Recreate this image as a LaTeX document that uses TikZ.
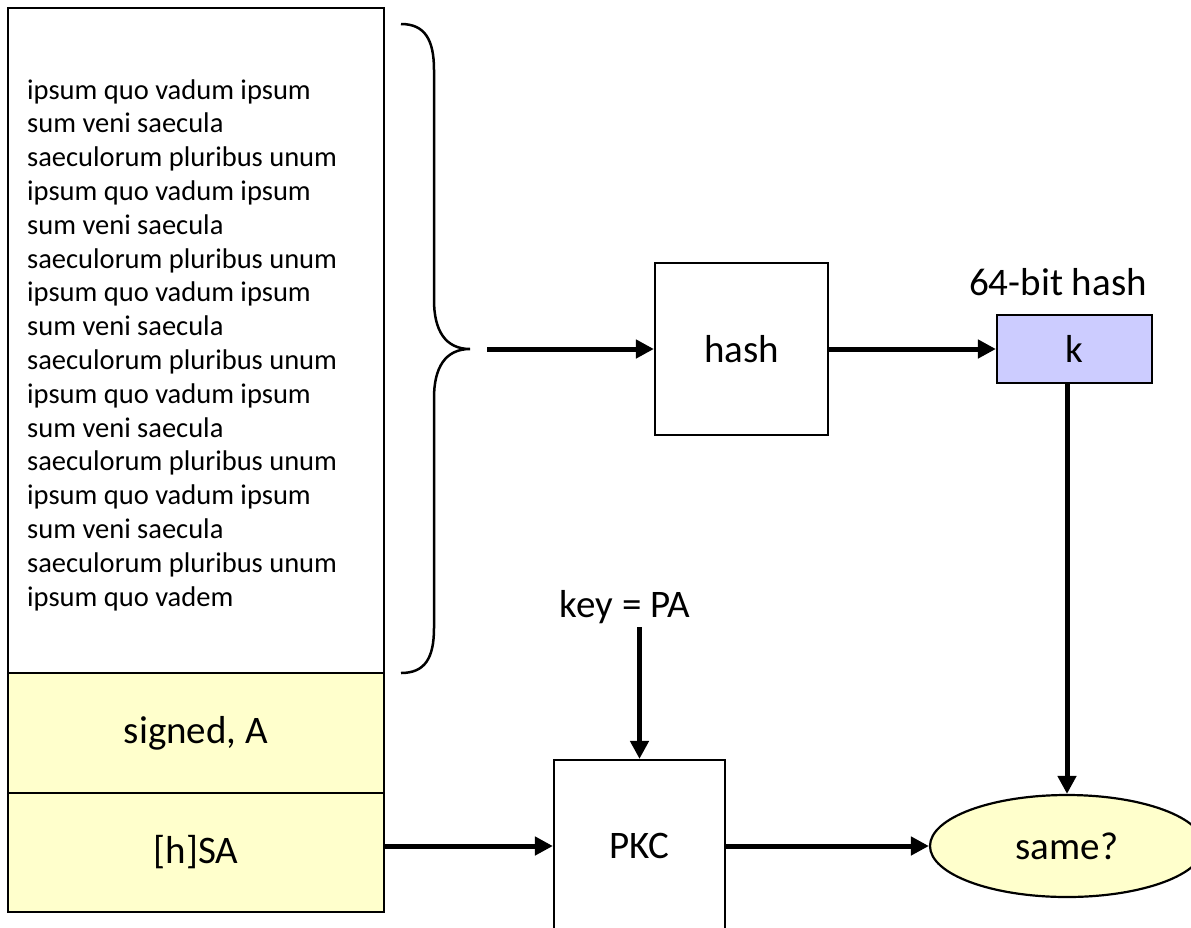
\documentclass[tikz,border=0pt]{standalone}
\usepackage{fontspec}
\setmainfont{Carlito}
\usetikzlibrary{arrows.meta,shapes.geometric}
\definecolor{notepad}{HTML}{FFFFCC}
\definecolor{hashblue}{HTML}{CCCCFF}
\newcommand{\bigtxt}{\fontsize{39}{46}\selectfont}
\newcommand{\smalltxt}{\fontsize{28.5}{33.8}\selectfont}

\begin{document}
\begin{tikzpicture}[x=1pt, y=-1pt,
	box/.style={draw, line width=2.2pt, inner sep=0pt, font=\bigtxt},
	arr/.style={line width=5pt, -{Triangle[length=18pt,width=18pt]}}]
			\useasboundingbox (0,0) rectangle (1191,927);
			\clip (0,0) rectangle (1191,927);
			% signed message
			\node[box, minimum width=376, minimum height=665] (msg) at (196,340.5) {};
			\node[anchor=west, align=left, inner sep=0pt, font=\smalltxt] (body) at (27,345) {ipsum quo vadum ipsum\\ sum veni saecula\\ saeculorum pluribus unum\\ ipsum quo vadum ipsum\\ sum veni saecula\\ saeculorum pluribus unum\\ ipsum quo vadum ipsum\\ sum veni saecula\\ saeculorum pluribus unum\\ ipsum quo vadum ipsum\\ sum veni saecula\\ saeculorum pluribus unum\\ ipsum quo vadum ipsum\\ sum veni saecula\\ saeculorum pluribus unum\\ ipsum quo vadem};
			\node[box, fill=notepad, minimum width=376, minimum height=120] (who) at (196,733) {signed, A};
			\node[box, fill=notepad, minimum width=376, minimum height=119] (sig) at (196,852.5) {[h]SA};
			\draw[line width=2.5pt] (401,24) .. controls (425,24) and (434,40) .. (434,70) -- (434,300)
			.. controls (434,330) and (445,349) .. (470,349)
			.. controls (445,349) and (434,368) .. (434,398) -- (434,628)
			.. controls (434,658) and (425,673) .. (401,673);
			% hashing and checking
			\coordinate (tip) at (487,349);
			\node[box, minimum width=173, minimum height=172] (hash) at (741.5,349) {hash};
			\node[box, fill=hashblue, minimum width=155, minimum height=68] (k) at (1074.5,349) {k};
			\node[font=\bigtxt] (klbl) at (1058,282) {64-bit hash};
			\node[font=\bigtxt] (keylbl) at (625,607) {key = PA};
			\node[box, minimum width=171, minimum height=172] (pkc) at (639.5,846) {PKC};
			\node[box, ellipse, fill=notepad, minimum width=274, minimum height=102] (same) at (1067,846) {same?};
			\draw[arr] (tip) -- (hash);
			\draw[arr] (hash) -- (k);
			\draw[arr] (k.south -| same.north) -- (same.north);
			\draw[arr] (keylbl.south -| pkc.north) -- (pkc.north);
			\draw[arr] (sig.east |- pkc.west) -- (pkc.west);
			\draw[arr] (pkc) -- (same);
		\end{tikzpicture}
\end{document}
